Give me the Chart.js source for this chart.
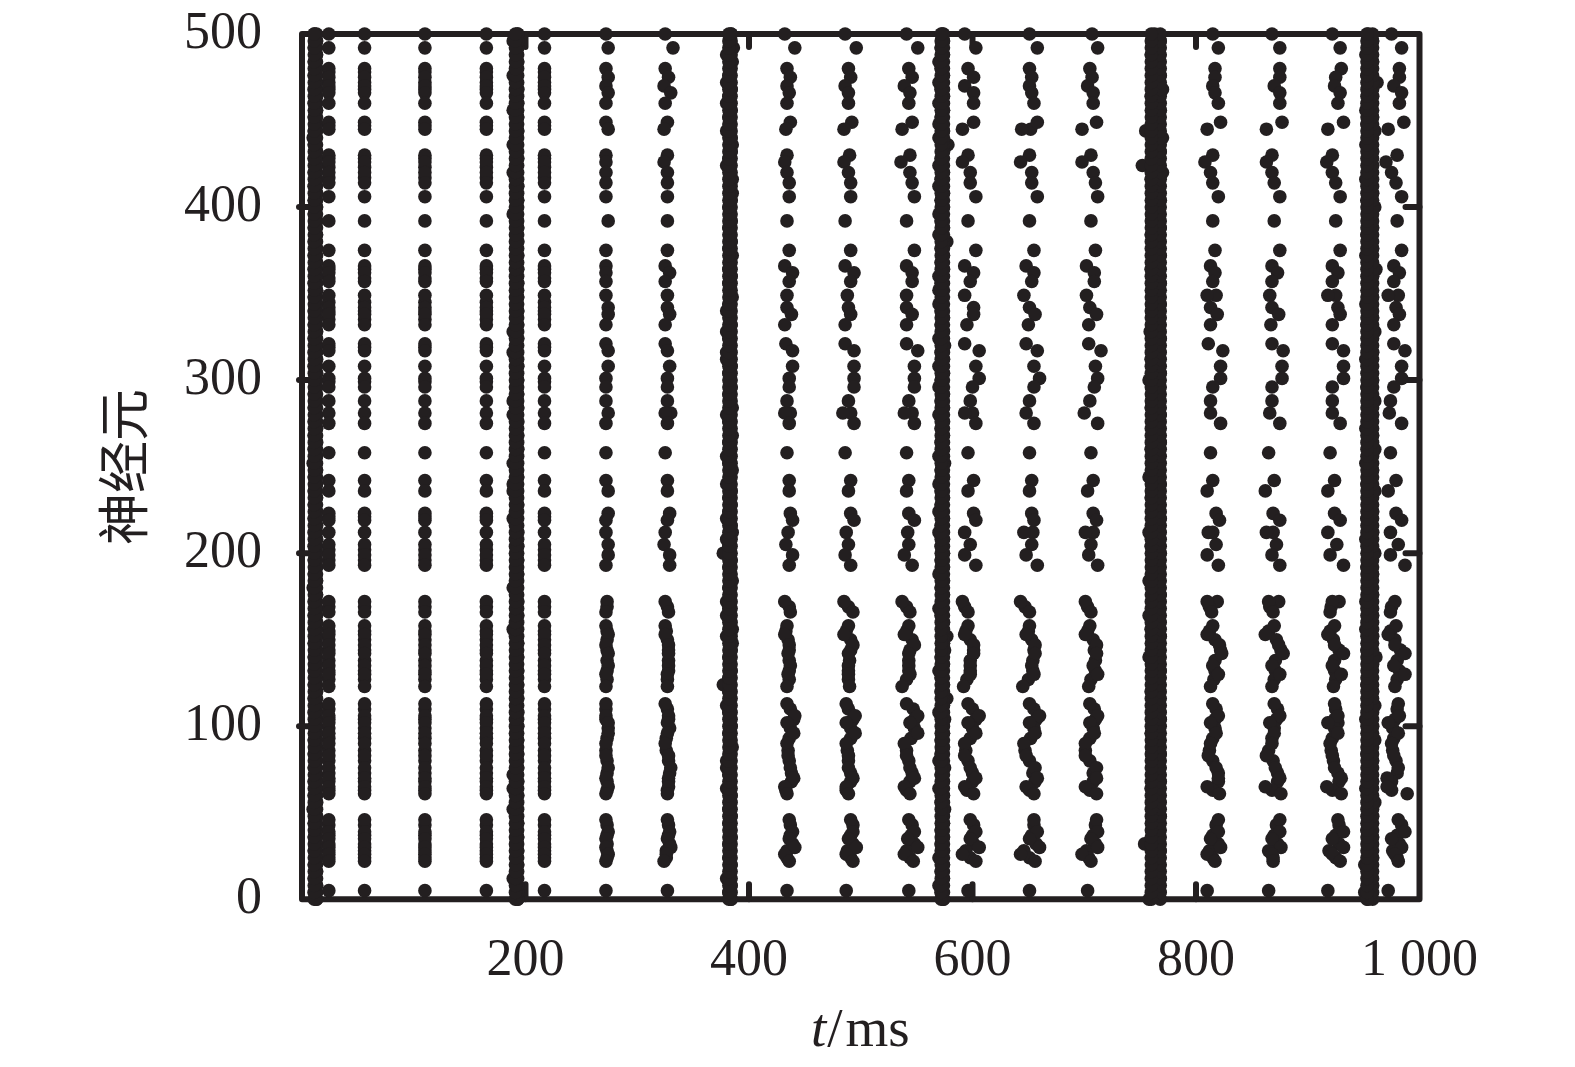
<!DOCTYPE html>
<html>
<head>
<meta charset="utf-8">
<title>神经元</title>
<script src="https://cdn.jsdelivr.net/npm/chart.js@4/dist/chart.umd.min.js"></script>
<style>
  html, body { margin: 0; padding: 0; background: #fff; }
  canvas { display: block; }
</style>
</head>
<body>
<canvas id="grafico" width="1575" height="1067"></canvas>
<script>
// neurons that keep firing between the bursts
const rows = [500,492,480,475,470,466,460,449,445,430,
  426,420,414,406,392,375,366,362,357,349,
  342,338,332,321,317,308,301,296,288,281,
  275,258,242,236,223,219,212,205,199,193,
  172,166,158,153,147,142,135,130,123,113,
  106,102,96,90,83,76,70,65,61,46,
  39,35,30,26,22,5];

// early columns, all neurons at the same time
const steadyTimes = [24, 56, 110, 165, 217];
const steadyFill = [478,472,468,447,428,423,417,364,359,345,340,335,319,299,221,202,196];

// dense lower rows, read for every later column
const lowerRows = [169,155,150,144,138,132,127,110,104,99,93,86,80,73,68,63,43,37,32,28,24];

const col272 = [272,274,272,274,272,274,272,272,274,272,
  272,272,272,272,274,272,272,272,272,272,
  274,274,272,272,274,274,272,272,272,274,
  272,272,272,274,274,272,272,274,274,272,
  273,272,272,274,272,274,274,272,272,272,
  272,274,274,272,272,274,272,274,272,272,
  274,272,272,274,272,272];
const low272 = [273,273,273,273,273,273,273,272,272,274,273,272,273,273,273,273,273,273,273,273,273];
const col327 = [325,332,325,328,324,330,325,327,324,327,
  324,327,327,327,327,327,325,329,325,327,
  327,329,325,325,327,329,327,327,327,325,
  327,325,327,327,329,327,325,324,329,329,
  325,328,325,325,328,328,328,327,327,325,
  328,327,327,325,328,330,328,328,327,327,
  329,327,330,326,324,327];
const low327 = [327,326,327,328,328,328,327,327,328,329,326,326,328,329,328,327,328,328,329,326,326];
const col434 = [432,441,434,437,434,436,434,437,433,434,
  432,434,436,436,434,436,432,439,436,434,
  434,438,432,433,439,439,436,436,434,432,
  436,434,436,436,437,439,435,433,439,436,
  432,437,434,432,436,435,437,435,434,434,
  441,434,440,434,435,437,440,432,434,436,
  439,436,441,432,436,434];
const low434 = [436,433,435,436,436,436,436,437,440,437,436,435,436,438,438,433,437,437,439,434,434];
const col487 = [486,496,489,491,486,489,489,492,485,490,
  485,489,491,491,486,491,486,494,491,488,
  489,491,486,486,494,494,494,494,489,484,
  494,486,491,489,491,494,487,489,486,491,
  485,493,489,485,493,489,489,489,490,487,
  495,487,495,487,489,489,493,487,489,491,
  493,489,496,487,493,487];
const low487 = [489,487,491,491,490,489,489,489,493,491,491,488,489,491,491,487,493,491,493,488,491];
const col542 = [541,551,543,546,539,544,543,546,537,544,
  536,544,546,548,541,548,541,546,546,541,
  541,546,541,541,551,548,548,548,543,539,
  548,541,543,541,543,548,542,543,539,546,
  537,544,543,539,548,543,543,544,537,541,
  551,544,551,539,541,544,548,539,544,543,
  548,542,551,539,547,543];
const low542 = [541,541,546,544,543,543,541,547,548,548,545,541,543,546,544,541,546,545,548,541,544];
const col598 = [593,603,596,601,593,601,601,601,591,596,
  591,598,598,603,596,603,593,601,598,593,
  601,601,595,593,606,603,606,600,598,593,
  603,596,601,596,601,603,593,598,593,603,
  591,596,596,593,601,601,598,598,592,596,
  606,596,603,593,593,598,603,593,601,598,
  603,598,606,591,603,596];
const low598 = [593,594,598,601,598,598,595,600,603,600,598,594,596,600,600,595,601,600,601,594,598];
const col651 = [651,658,651,653,651,653,655,658,644,651,
  643,653,653,658,651,655,648,655,653,646,
  651,656,650,648,658,655,660,655,651,648,
  655,651,653,651,653,655,646,653,648,658,
  643,651,651,648,656,656,653,655,645,651,
  660,651,656,646,648,656,658,648,655,655,
  658,651,660,643,656,651];
const low651 = [647,650,653,655,654,654,650,655,657,655,652,647,651,654,656,651,655,653,657,646,651];
const col704 = [707,712,705,707,703,708,708,711,698,706,
  698,708,710,712,706,710,702,709,709,702,
  705,711,704,704,715,710,712,709,705,700,
  712,706,708,703,708,711,701,706,704,712,
  701,706,705,701,711,711,708,712,704,705,
  712,705,709,701,701,711,711,701,711,711,
  712,706,712,698,706,703];
const low704 = [703,703,708,709,710,710,706,709,710,708,705,701,705,708,708,705,710,708,710,702,704];
const col817 = [815,820,817,817,815,817,820,822,810,815,
  808,813,815,820,815,817,813,817,815,810,
  813,819,813,811,824,822,822,815,813,813,
  822,813,815,810,818,821,811,818,810,820,
  810,814,815,810,821,823,815,820,813,815,
  820,813,818,813,811,818,820,810,821,820,
  820,813,822,810,817,810];
const low817 = [812,812,817,822,817,817,816,818,817,817,815,812,815,820,820,815,818,815,820,812,815];
const col872 = [868,875,875,875,870,875,875,877,863,868,
  863,868,870,875,870,875,868,873,868,866,
  868,874,867,868,878,877,877,868,868,866,
  875,865,870,862,869,875,863,872,868,875,
  865,869,870,862,874,878,868,875,868,870,
  875,866,870,868,863,871,875,862,876,875,
  875,868,876,868,869,865];
const low872 = [866,865,872,876,871,871,870,873,872,870,868,865,869,873,873,868,872,870,873,865,869];
const col927 = [922,929,930,925,924,929,927,932,918,922,
  917,922,925,929,925,929,922,927,922,918,
  927,929,922,922,932,932,932,922,922,922,
  929,920,924,918,924,929,918,926,920,932,
  922,920,924,918,924,932,922,930,923,924,
  927,918,927,920,922,924,930,917,930,927,
  932,922,932,922,929,918];
const low927 = [921,920,923,928,924,924,925,925,924,924,922,921,923,927,928,922,928,925,928,919,925];
const col980 = [975,984,982,982,977,984,982,986,972,980,
  970,975,979,984,980,984,977,982,977,972,
  979,982,977,977,987,984,984,977,974,973,
  984,974,979,972,979,984,974,981,974,987,
  978,974,979,972,978,987,977,987,978,981,
  982,972,981,975,977,981,971,971,989,981,
  987,975,984,978,981,972];
const low980 = [975,974,978,983,980,982,980,980,978,976,977,976,979,980,975,975,984,980,982,976,980];

// second spikes that do not fit the columns above
const extraTimes = [330,437,491,546,600,654,708,815,869,819,874,928,818,925,981,652,927];
const extraNeurons = [281,281,281,281,281,212,212,212,212,172,172,172,349,349,349,445,102];

// burst rows, bottom to top
const burstRows = [0,4,8,12,16,20,24,28,32,36,
  40,44,48,52,56,60,64,68,72,76,
  80,84,88,92,96,100,104,108,112,116,
  120,124,128,132,136,140,144,148,152,156,
  160,164,168,172,176,180,184,188,192,196,
  200,204,208,212,216,220,224,228,232,236,
  240,244,248,252,256,260,264,268,272,276,
  280,284,288,292,296,300,304,308,312,316,
  320,324,328,332,336,340,344,348,352,356,
  360,364,368,372,376,380,384,388,392,396,
  400,404,408,412,416,420,424,428,432,436,
  440,444,448,452,456,460,464,468,472,476,
  480,484,488,492,496,500];

// the solid body of each burst, left and right strand
const burstLeft = [11, 191, 382, 572, 760, 953];
const burstRight = [13, 193, 384, 574, 768, 958];

const burst1 = [13,11,13,11,13,11,13,11,13,11,
  13,11,13,10,13,11,13,11,13,11,
  13,11,13,11,13,11,13,11,13,11,
  13,11,13,11,13,11,13,11,13,11,
  13,11,13,11,13,10,13,11,13,11,
  13,11,13,11,13,11,13,11,13,11,
  13,11,13,10,13,11,13,11,13,11,
  13,11,13,11,13,11,13,11,13,11,
  13,11,13,11,13,11,13,11,13,11,
  13,11,13,11,13,11,13,11,13,11,
  13,11,13,11,13,11,13,11,13,11,
  10,11,13,11,13,11,13,11,13,11,
  13,11,13,11,13,11];
const burst2 = [193,192,193,189,192,193,192,193,192,193,
  192,193,192,189,192,193,189,193,189,193,
  192,193,192,193,192,193,192,193,192,193,
  192,193,192,193,192,193,192,193,192,189,
  192,193,192,193,192,189,192,193,192,193,
  192,193,192,193,192,189,192,193,192,189,
  189,193,192,189,192,193,192,193,192,193,
  189,193,189,193,192,193,192,193,192,189,
  192,193,189,193,192,193,192,193,192,193,
  192,193,192,193,192,193,192,193,192,189,
  192,193,192,193,192,189,192,193,192,189,
  192,193,192,193,189,193,192,193,192,189,
  192,193,192,193,189,193];
const burst3 = [384,382,384,380,383,384,382,383,382,384,
  383,382,384,382,383,384,380,383,382,380,
  380,383,385,383,382,384,383,382,380,383,
  382,377,382,384,383,382,384,385,380,385,
  383,380,382,380,383,382,385,383,382,384,
  377,382,380,385,384,380,382,384,382,384,
  380,383,385,382,380,383,382,385,383,382,
  380,385,383,382,384,383,382,384,380,380,
  383,382,380,384,383,380,382,385,383,382,
  384,382,383,385,382,384,383,382,384,383,
  382,384,385,383,385,383,380,382,384,385,
  384,380,383,382,384,380,382,384,380,382,
  383,385,380,386,383,384];
const burst4 = [574,572,570,574,572,574,570,574,572,574,
  572,574,573,575,572,574,570,574,572,575,
  570,572,574,572,574,573,575,570,574,577,
  572,574,572,570,574,572,575,574,577,573,
  574,572,570,573,574,572,574,570,574,572,
  574,572,574,570,572,574,570,572,574,572,
  570,574,572,575,570,574,572,574,572,574,
  570,574,572,574,570,572,574,570,574,572,
  575,570,574,572,574,572,570,573,570,572,
  570,574,572,574,572,577,570,574,572,570,
  574,572,574,570,572,574,570,572,574,578,
  570,574,570,572,574,570,574,572,570,574,
  572,570,574,572,574,573];
const burst5 = [758,762,766,768,762,766,764,768,754,762,
  766,764,768,762,766,764,760,768,762,766,
  762,768,764,766,760,764,768,762,766,764,
  760,766,762,768,764,758,766,762,768,760,
  764,758,766,762,768,764,758,766,764,762,
  768,760,766,758,762,768,764,766,760,764,
  768,758,764,766,762,760,768,764,762,766,
  768,760,764,766,762,758,768,764,760,766,
  762,768,759,764,766,762,768,764,762,768,
  764,760,766,768,762,764,760,768,762,766,
  764,768,762,766,760,770,752,764,768,766,
  770,755,764,762,768,764,760,770,764,768,
  762,766,760,764,768,763];
const burst6 = [954,951,958,954,956,951,958,954,956,958,
  953,956,958,954,960,956,952,958,954,956,
  958,953,956,960,954,958,952,956,960,954,
  958,953,956,954,958,961,953,956,958,952,
  956,958,954,952,958,956,954,958,953,956,
  960,954,952,958,956,953,958,954,956,960,
  953,956,958,952,956,960,954,958,952,956,
  958,954,960,956,953,958,954,956,952,958,
  954,956,960,953,958,956,952,958,954,956,
  958,961,954,952,958,956,953,958,954,956,
  960,953,958,954,952,956,958,954,958,952,
  956,960,953,958,952,956,958,954,962,953,
  956,958,952,956,958,954];

const tickX = [0, 200, 400, 600, 800, 1000];
const tickY = [0, 100, 200, 300, 400, 500];
const labelX = { 200: '200', 400: '400', 600: '600', 800: '800', 1000: '1 000' };
const tituloY = '神经元';

const cor = '#231f20';
const serif = '"Liberation Serif", serif';

function serie(tempos, neuronios) {
  return {
    data: tempos.map((t, i) => ({ x: t, y: neuronios[i] })),
    showLine: false,
    clip: false,
    pointRadius: 6.8,
    pointBorderWidth: 0,
    pointBackgroundColor: cor
  };
}

const datasets = [];
steadyTimes.forEach(t => {
  datasets.push(serie(rows.map(() => t), rows));
  datasets.push(serie(steadyFill.map(() => t), steadyFill));
  datasets.push(serie(lowerRows.map(() => t), lowerRows));
});
[[col272, low272], [col327, low327], [col434, low434], [col487, low487], [col542, low542], [col598, low598],
 [col651, low651], [col704, low704], [col817, low817], [col872, low872], [col927, low927], [col980, low980]]
  .forEach(([c, l]) => {
    datasets.push(serie(c, rows));
    datasets.push(serie(l, lowerRows));
  });
[burst1, burst2, burst3, burst4, burst5, burst6].forEach((b, i) => {
  datasets.push(serie(burstRows.map(() => burstLeft[i]), burstRows));
  datasets.push(serie(burstRows.map(() => burstRight[i]), burstRows));
  datasets.push(serie(b, burstRows));
});
datasets.push(serie(extraTimes, extraNeurons));

// Moldura, marcas para dentro e títulos dos eixos
const moldura = {
  id: 'moldura',
  beforeDatasetsDraw(chart) {
    const { ctx, chartArea: a, scales } = chart;
    ctx.save();
    ctx.strokeStyle = cor;
    ctx.lineWidth = 6;
    ctx.lineJoin = 'round';
    ctx.strokeRect(a.left, a.top, a.right - a.left, a.bottom - a.top);
    ctx.lineCap = 'round';
    tickX.slice(1, -1).forEach(v => {
      const x = scales.x.getPixelForValue(v);
      ctx.beginPath();
      ctx.moveTo(x, a.bottom); ctx.lineTo(x, a.bottom - 15);
      ctx.moveTo(x, a.top); ctx.lineTo(x, a.top + 13);
      ctx.stroke();
    });
    tickY.slice(1, -1).forEach(v => {
      const y = scales.y.getPixelForValue(v);
      ctx.beginPath();
      ctx.moveTo(a.right, y); ctx.lineTo(a.right - 14, y);
      ctx.moveTo(a.left - 3, y); ctx.lineTo(a.left + 12, y);
      ctx.stroke();
    });
    ctx.restore();
  },
  afterDraw(chart) {
    const { ctx } = chart;
    ctx.save();
    ctx.fillStyle = cor;
    ctx.textBaseline = 'alphabetic';
    ctx.textAlign = 'left';
    let x = 811;
    ctx.font = 'italic 55px ' + serif;
    ctx.fillText('t', x, 1046);
    x += ctx.measureText('t').width + 1;
    ctx.font = '55px ' + serif;
    ctx.fillText('/', x, 1046);
    x += ctx.measureText('/').width + 3;
    ctx.fillText('ms', x, 1046);
    ctx.translate(123, 467);
    ctx.rotate(-Math.PI / 2);
    ctx.font = '52px "Noto Sans CJK SC"';
    ctx.textAlign = 'center';
    ctx.textBaseline = 'middle';
    ctx.fillText(tituloY, 0, 0);
    ctx.restore();
  }
};

new Chart(document.getElementById('grafico'), {
  type: 'scatter',
  data: { datasets },
  plugins: [moldura],
  options: {
    responsive: false,
    animation: false,
    layout: { padding: { top: 34, right: 155.5, bottom: 0, left: 0 } },
    plugins: { legend: { display: false }, tooltip: { enabled: false } },
    scales: {
      x: {
        type: 'linear',
        min: 0,
        max: 1000,
        afterFit: s => { s.height = 167.7; s.paddingLeft = 0; s.paddingRight = 0; },
        grid: { display: false },
        border: { display: false },
        afterBuildTicks: s => { s.ticks = tickX.map(v => ({ value: v })); },
        ticks: {
          autoSkip: false,
          maxRotation: 0,
          padding: 23,
          color: cor,
          font: { family: serif, size: 52 },
          callback: v => labelX[v] || ''
        }
      },
      y: {
        type: 'linear',
        min: 0,
        max: 500,
        afterFit: s => { s.width = 302; s.paddingTop = 0; s.paddingBottom = 0; },
        grid: { display: false },
        border: { display: false },
        afterBuildTicks: s => { s.ticks = tickY.map(v => ({ value: v })); },
        ticks: {
          autoSkip: false,
          padding: 32,
          color: cor,
          font: { family: serif, size: 52 }
        }
      }
    }
  }
});
</script>
</body>
</html>
